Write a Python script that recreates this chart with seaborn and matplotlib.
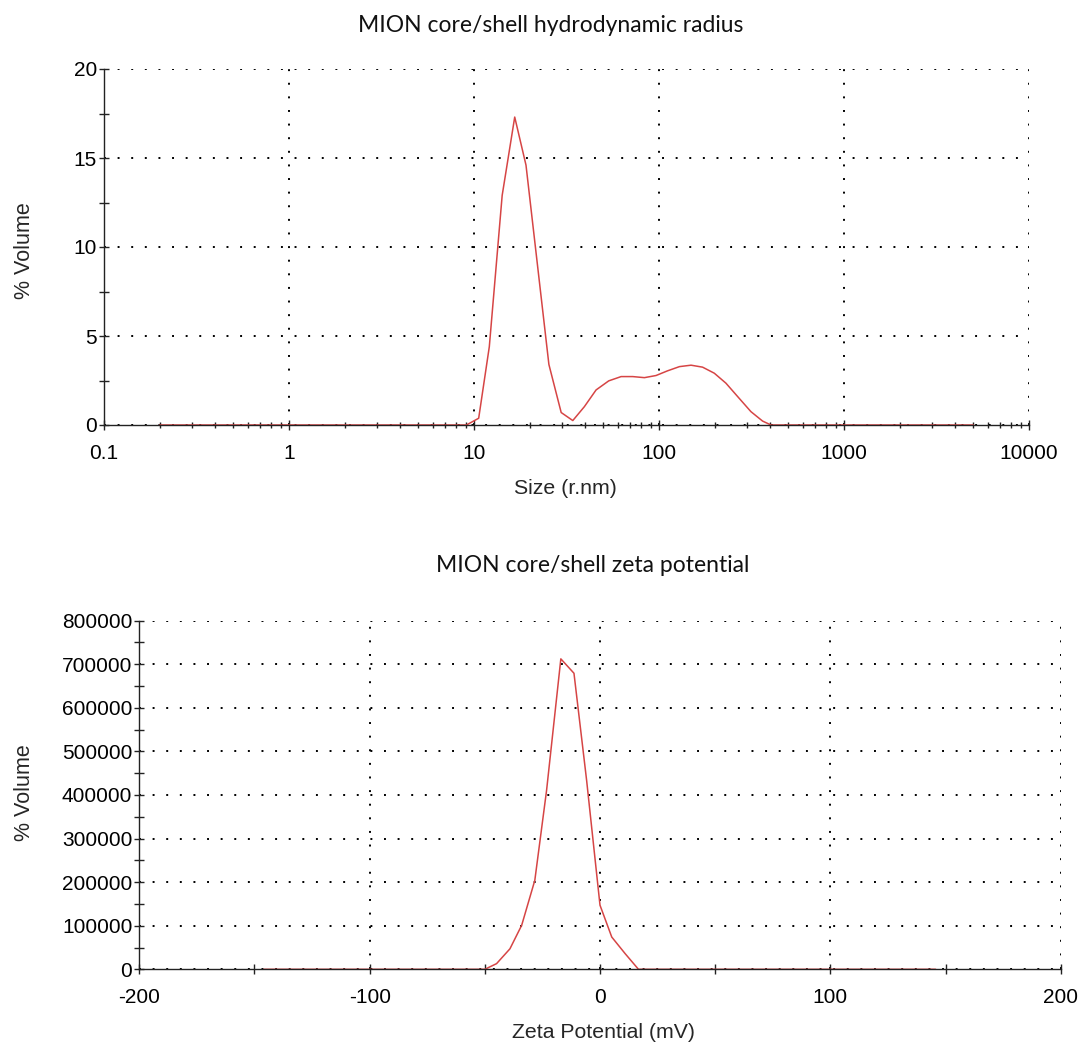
import matplotlib
matplotlib.use("Agg")
import matplotlib.pyplot as plt
import seaborn as sns
import pandas as pd
import numpy as np
from matplotlib.ticker import MultipleLocator, LogLocator, NullFormatter, FixedLocator

# ---- data: hydrodynamic radius (size distribution by volume) ----
size_nm = [0.2, 9.1, 10.6, 12.1, 14.2, 16.6, 19.1, 25.4, 29.6, 34.2, 39.5, 45.7,
           53.5, 62.4, 72.1, 83.4, 96.4, 111, 129, 149, 172, 199, 230, 266,
           314, 363, 403, 5000]
size_vol = [0, 0, 0.38, 4.4, 12.9, 17.3, 14.6, 3.4, 0.7, 0.25, 1.03, 1.97,
            2.48, 2.72, 2.72, 2.66, 2.78, 3.04, 3.28, 3.36, 3.25, 2.91, 2.35, 1.6,
            0.75, 0.22, 0, 0]

# ---- data: zeta potential ----
zeta_mv = [-146, -50, -44.9, -39.1, -34.0, -28.3, -23.2, -17.0, -11.3, -5.8,
           0, 5.1, 10.9, 16.7, 145.7]
zeta_vol = [0, 0, 13000, 47000, 101000, 204000, 410000, 712000, 679000, 433000,
            147000, 74000, 36000, 0, 0]

size_ticks = [0.1, 1, 10, 100, 1000, 10000]
size_ticklabels = ["0.1", "1", "10", "100", "1000", "10000"]
zeta_ticks = [-200, -100, 0, 100, 200]

df1 = pd.DataFrame({"size": size_nm, "vol": size_vol})
df2 = pd.DataFrame({"zeta": zeta_mv, "vol": zeta_vol})

sns.set_theme(style="white")
plt.rcParams['font.family'] = ['Liberation Sans', 'DejaVu Sans']
plt.rcParams['axes.unicode_minus'] = False

W, H = 1081, 1042
fig = plt.figure(figsize=(W / 100, H / 100), dpi=100)

def box(l, t, r, b):
    return [l / W, 1 - b / H, (r - l) / W, (b - t) / H]

ax1 = fig.add_axes(box(104, 69, 1029, 425))
ax2 = fig.add_axes(box(139.3, 620.5, 1060.7, 969.3))

red = "#d64545"
grid_kw = dict(color="black", linestyle=(0, (1, 6.0)), linewidth=1.4)

sns.lineplot(data=df1, x="size", y="vol", ax=ax1, color=red, linewidth=1.1)
ax1.set_xscale("log")
ax1.set_xlim(0.1, 10000)
ax1.set_ylim(0, 20)
ax1.xaxis.set_major_locator(FixedLocator(size_ticks))
ax1.set_xticklabels(size_ticklabels)
ax1.xaxis.set_minor_locator(LogLocator(base=10, subs=np.arange(2, 10)))
ax1.xaxis.set_minor_formatter(NullFormatter())
ax1.yaxis.set_major_locator(MultipleLocator(5))
ax1.yaxis.set_minor_locator(MultipleLocator(2.5))

sns.lineplot(data=df2, x="zeta", y="vol", ax=ax2, color=red, linewidth=1.1)
ax2.set_xlim(-200, 200)
ax2.set_ylim(0, 800000)
ax2.xaxis.set_major_locator(FixedLocator(zeta_ticks))
ax2.xaxis.set_minor_locator(MultipleLocator(50))
ax2.yaxis.set_major_locator(MultipleLocator(100000))
ax2.yaxis.set_minor_locator(MultipleLocator(50000))

for ax in (ax1, ax2):
    ax.grid(True, which="major", **grid_kw)
    ax.grid(False, which="minor")
    for s in ("top", "right"):
        ax.spines[s].set_visible(False)
    for s in ("left", "bottom"):
        ax.spines[s].set_color("#222222")
        ax.spines[s].set_linewidth(1.0)
    ax.tick_params(which="both", bottom=True, left=True, top=False, right=False)
    ax.tick_params(which="major", direction="inout", length=7, width=1.0,
                   color="#222222", labelsize=15, labelcolor="black")
    ax.tick_params(which="minor", direction="inout", length=7, width=1.0,
                   color="#222222")
    ax.tick_params(axis="x", which="major", pad=10)
    ax.tick_params(axis="y", which="major", pad=1.5)
    ax.set_xlabel("")
    ax.set_ylabel("")
    ax.set_facecolor("white")

ax1.tick_params(axis="x", which="minor", length=4.5)

title_font = ['Lato', 'DejaVu Sans']
fig.text(551 / W, 1 - 25 / H, "MION core/shell hydrodynamic radius",
         ha="center", va="center", fontsize=16.5, family=title_font, color="#111111")
fig.text(593 / W, 1 - 566 / H, "MION core/shell zeta potential",
         ha="center", va="center", fontsize=16.5, family=title_font, color="#111111")

fig.text(565 / W, 1 - 489 / H, "Size (r.nm)", ha="center", va="center", fontsize=15.3)
fig.text(603 / W, 1 - 1032 / H, "Zeta Potential (mV)", ha="center", va="center", fontsize=15.3)
fig.text(25 / W, 1 - 251 / H, "% Volume", ha="center", va="center", rotation=90, fontsize=15.5)
fig.text(25 / W, 1 - 793 / H, "% Volume", ha="center", va="center", rotation=90, fontsize=15.5)

fig.savefig("out.png", dpi=100, facecolor="white")
